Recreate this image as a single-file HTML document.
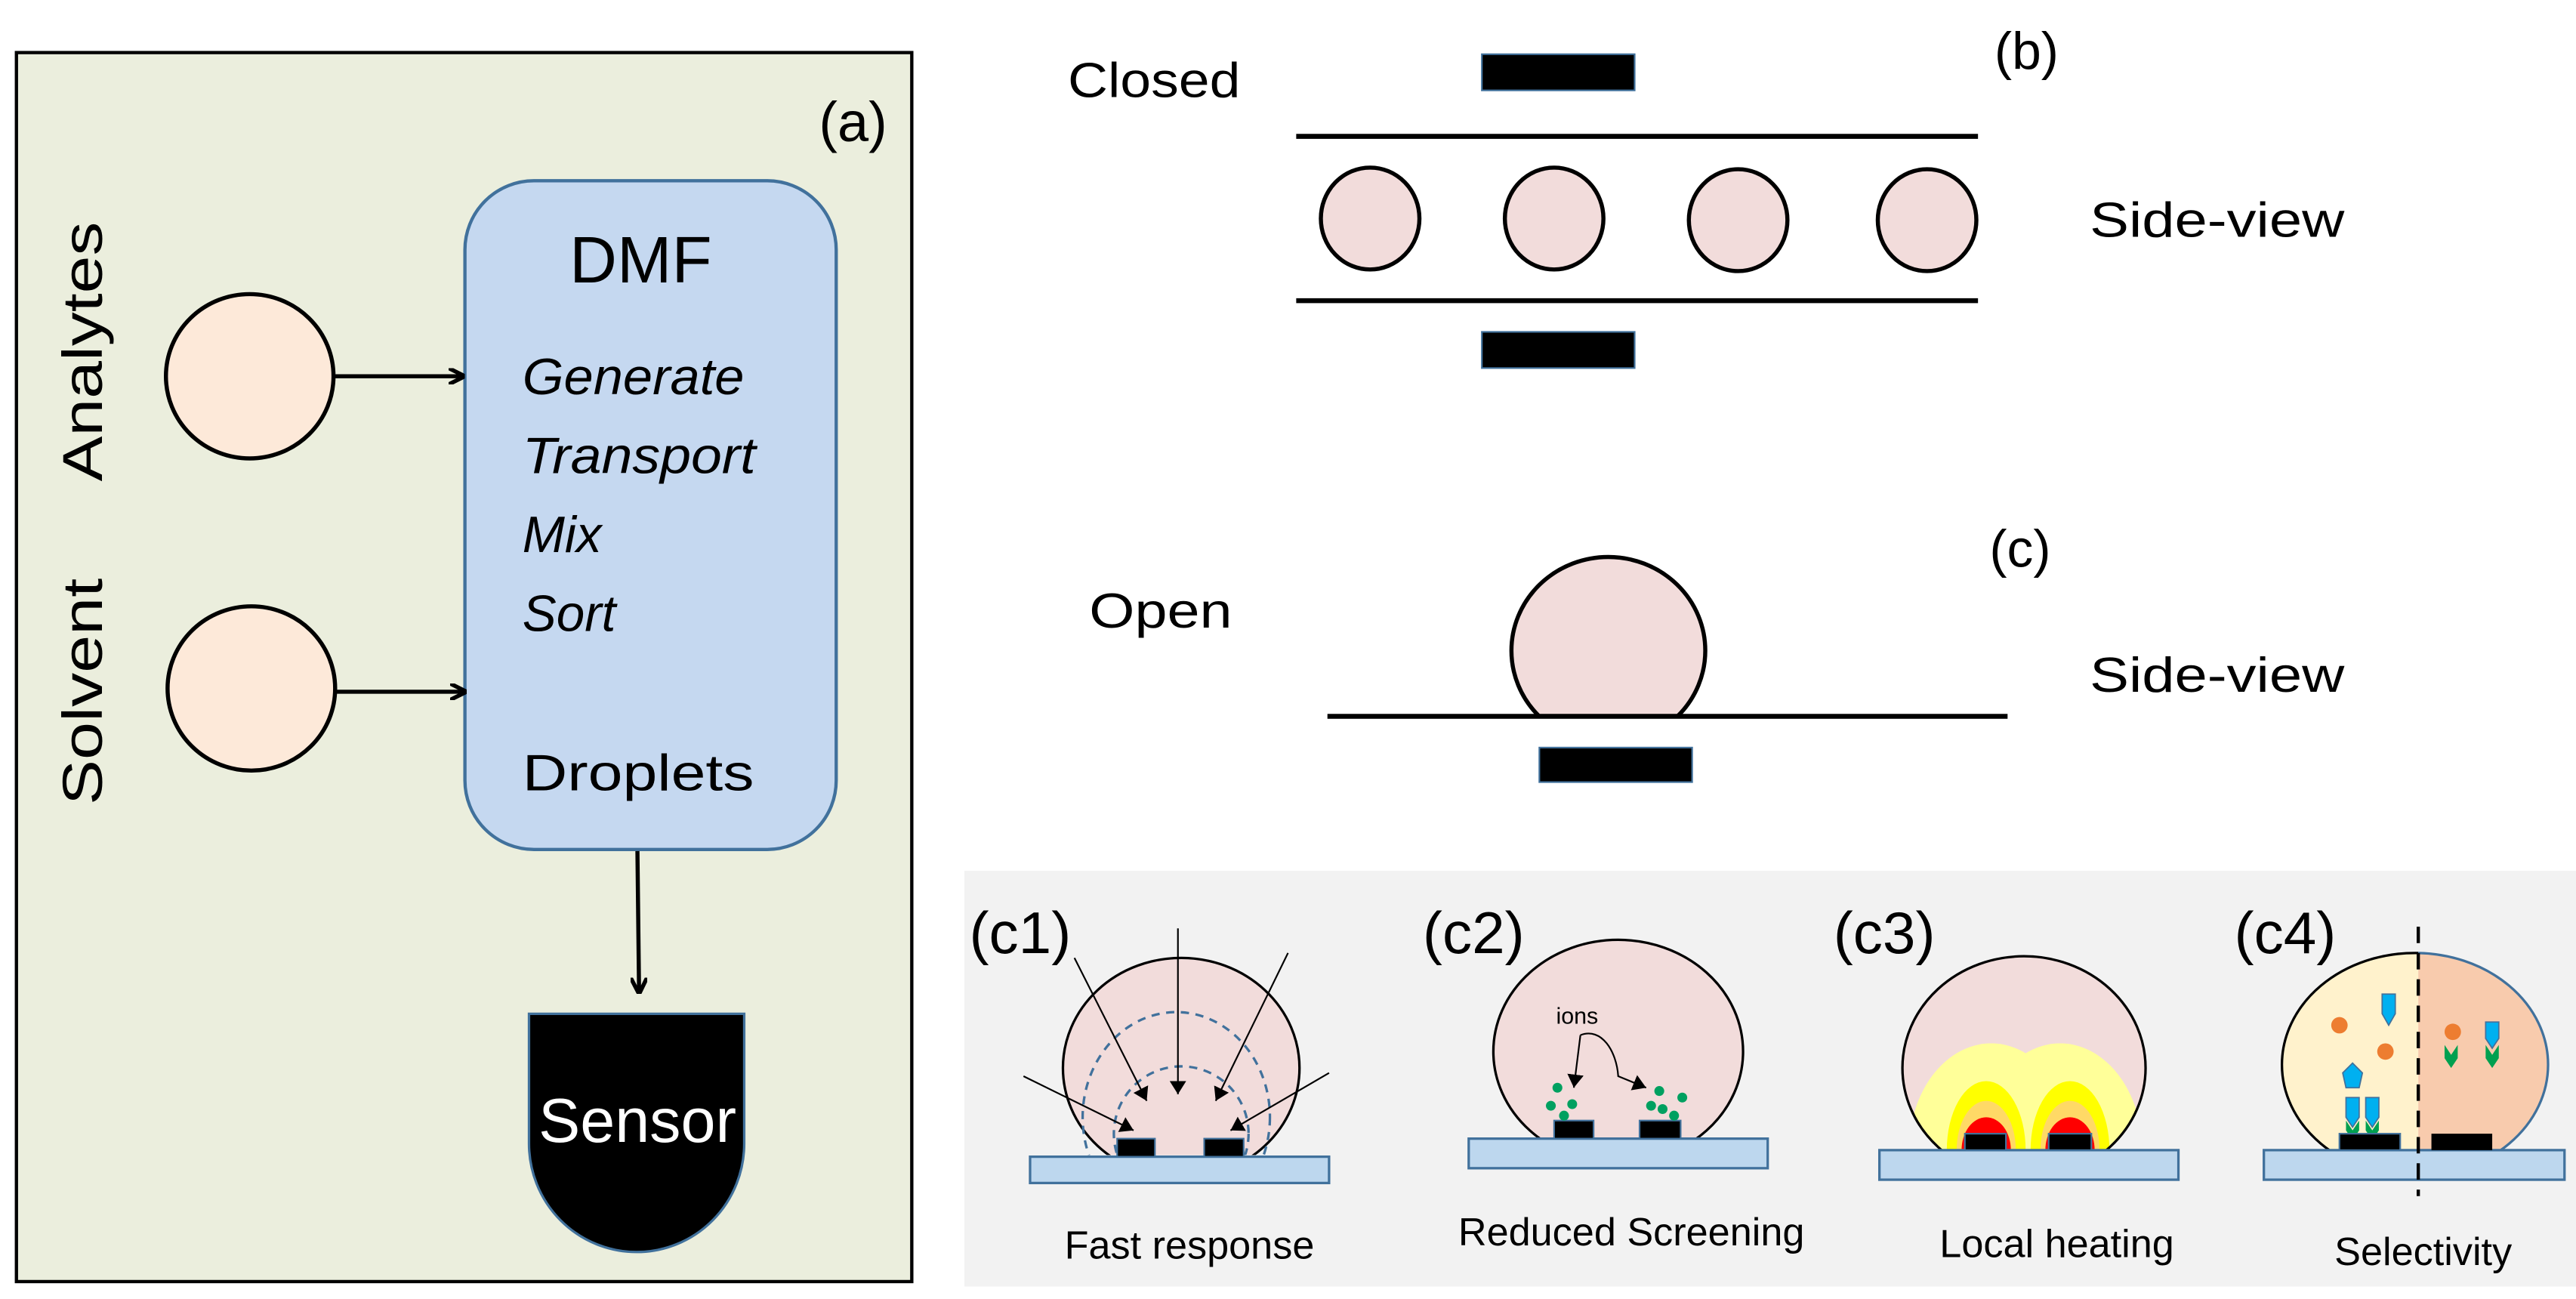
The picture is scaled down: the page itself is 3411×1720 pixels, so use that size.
<!DOCTYPE html>
<html><head><meta charset="utf-8"><style>html,body{margin:0;padding:0;background:#fff}svg{display:block}text{font-family:"Liberation Sans",sans-serif}</style></head>
<body>
<svg width="3411" height="1720" viewBox="0 0 1568 790.6" preserveAspectRatio="none" xmlns="http://www.w3.org/2000/svg">
<defs>
<marker id="ao" markerWidth="10" markerHeight="10" refX="9" refY="5" orient="auto" markerUnits="userSpaceOnUse"><path d="M0,0 L10,5 L0,10" fill="none" stroke="#000" stroke-width="2.5"/></marker>
<marker id="af" markerWidth="8" markerHeight="10" refX="8" refY="5" orient="auto" markerUnits="userSpaceOnUse"><path d="M0,0 L8,5 L0,10Z" fill="#000"/></marker>
<clipPath id="k1"><rect x="600" y="540" width="300" height="163"/></clipPath>
<clipPath id="k2"><rect x="880" y="540" width="300" height="153"/></clipPath>
<clipPath id="k3"><rect x="1130" y="540" width="300" height="160"/></clipPath>
<clipPath id="kc"><rect x="850" y="300" width="300" height="135"/></clipPath>
<clipPath id="d3"><ellipse cx="1232" cy="650" rx="74" ry="68"/></clipPath>
<clipPath id="d4L"><rect x="1370" y="560" width="102" height="140"/></clipPath>
<clipPath id="d4R"><rect x="1472" y="560" width="102" height="140"/></clipPath>
</defs>
<!-- panel a -->
<rect x="10" y="32" width="545" height="748" fill="#ebeedd" stroke="#000" stroke-width="2"/>
<text x="540" y="86" font-size="34" text-anchor="end">(a)</text>
<rect x="283" y="110" width="226" height="407" rx="42" fill="#c5d8f0" stroke="#41719c" stroke-width="2"/>
<text x="390" y="172" font-size="40" text-anchor="middle">DMF</text>
<g font-size="31" font-style="italic">
<text x="318" y="240" textLength="135" lengthAdjust="spacingAndGlyphs">Generate</text><text x="318" y="288" textLength="142" lengthAdjust="spacingAndGlyphs">Transport</text><text x="318" y="336">Mix</text><text x="318" y="384">Sort</text>
</g>
<text x="318" y="481" font-size="31" textLength="141" lengthAdjust="spacingAndGlyphs">Droplets</text>
<ellipse cx="152" cy="229" rx="51" ry="50" fill="#fde9d9" stroke="#000" stroke-width="2.5"/>
<ellipse cx="153" cy="419" rx="51" ry="50" fill="#fde9d9" stroke="#000" stroke-width="2.5"/>
<line x1="203" y1="229" x2="282" y2="229" stroke="#000" stroke-width="2.5" marker-end="url(#ao)"/>
<line x1="204" y1="421" x2="283" y2="421" stroke="#000" stroke-width="2.5" marker-end="url(#ao)"/>
<text transform="translate(62,214) rotate(-90)" font-size="34" text-anchor="middle" textLength="158" lengthAdjust="spacingAndGlyphs">Analytes</text>
<text transform="translate(62,421) rotate(-90)" font-size="34" text-anchor="middle" textLength="138" lengthAdjust="spacingAndGlyphs">Solvent</text>
<line x1="388" y1="518" x2="389" y2="604" stroke="#000" stroke-width="2.5" marker-end="url(#ao)"/>
<path d="M322,617 H453 V696 A65.5,66 0 0 1 322,696 Z" fill="#000" stroke="#41719c" stroke-width="1.5"/>
<text x="388" y="695" font-size="38" fill="#fff" text-anchor="middle">Sensor</text>
<!-- panel b -->
<text x="650" y="59" font-size="30" textLength="105" lengthAdjust="spacingAndGlyphs">Closed</text>
<text x="1214" y="42" font-size="32">(b)</text>
<rect x="902" y="33" width="93" height="22" fill="#000" stroke="#41719c"/>
<line x1="789" y1="83" x2="1204" y2="83" stroke="#000" stroke-width="3"/>
<g fill="#f2dcdb" stroke="#000" stroke-width="2.5">
<ellipse cx="834" cy="133" rx="30" ry="31"/><ellipse cx="946" cy="133" rx="30" ry="31"/><ellipse cx="1058" cy="134" rx="30" ry="31"/><ellipse cx="1173" cy="134" rx="30" ry="31"/>
</g>
<line x1="789" y1="183" x2="1204" y2="183" stroke="#000" stroke-width="3"/>
<rect x="902" y="202" width="93" height="22" fill="#000" stroke="#41719c"/>
<text x="1272" y="144" font-size="30" textLength="155" lengthAdjust="spacingAndGlyphs">Side-view</text>
<!-- panel c -->
<text x="663" y="382" font-size="30" textLength="87" lengthAdjust="spacingAndGlyphs">Open</text>
<text x="1211" y="345" font-size="32">(c)</text>
<ellipse cx="979" cy="396" rx="59" ry="57" fill="#f2dcdb" stroke="#000" stroke-width="2.5" clip-path="url(#kc)"/>
<line x1="808" y1="436" x2="1222" y2="436" stroke="#000" stroke-width="3"/>
<rect x="937" y="455" width="93" height="21" fill="#000" stroke="#41719c"/>
<text x="1272" y="421" font-size="30" textLength="155" lengthAdjust="spacingAndGlyphs">Side-view</text>
<!-- bottom panel -->
<rect x="587" y="530" width="981" height="253" fill="#f2f2f2"/>
<g font-size="36"><text x="590" y="580">(c1)</text><text x="866" y="580">(c2)</text><text x="1116" y="580">(c3)</text><text x="1360" y="580">(c4)</text></g>
<!-- c1 -->
<ellipse cx="719" cy="650" rx="72" ry="67" fill="#f2dcdb" stroke="#000" stroke-width="1.5" clip-path="url(#k1)"/>
<g fill="none" stroke="#41719c" stroke-width="1.5" stroke-dasharray="5,4" clip-path="url(#k1)">
<ellipse cx="716" cy="680" rx="57" ry="64"/><ellipse cx="719" cy="690" rx="41" ry="41"/>
</g>
<g stroke="#000" stroke-width="1" marker-end="url(#af)">
<line x1="717" y1="565" x2="717" y2="666"/><line x1="654" y1="583" x2="698" y2="670"/><line x1="784" y1="580" x2="740" y2="670"/>
<line x1="623" y1="655" x2="690" y2="688"/><line x1="809" y1="653" x2="749" y2="688"/>
</g>
<rect x="627" y="704" width="182" height="16" fill="#bdd7ee" stroke="#41719c" stroke-width="1.5"/>
<rect x="680" y="693" width="23" height="11" fill="#000" stroke="#41719c"/>
<rect x="733" y="693" width="24" height="11" fill="#000" stroke="#41719c"/>
<text x="724" y="766" font-size="24" text-anchor="middle">Fast response</text>
<!-- c2 -->
<ellipse cx="985" cy="640" rx="76" ry="68" fill="#f2dcdb" stroke="#000" stroke-width="1.5" clip-path="url(#k2)"/>
<rect x="894" y="693" width="182" height="18" fill="#bdd7ee" stroke="#41719c" stroke-width="1.5"/>
<rect x="946" y="682" width="24" height="11" fill="#000" stroke="#41719c"/>
<rect x="998" y="682" width="25" height="11" fill="#000" stroke="#41719c"/>
<text x="960" y="623" font-size="14" text-anchor="middle">ions</text>
<path d="M962,630 L958,662" stroke="#000" fill="none" stroke-width="1" marker-end="url(#af)"/>
<path d="M962,630 C975,625 984,640 985,655 L1002,662" stroke="#000" fill="none" stroke-width="1" marker-end="url(#af)"/>
<g fill="#00a060"><circle cx="948" cy="662" r="3"/><circle cx="944" cy="673" r="3"/><circle cx="952" cy="679" r="3"/><circle cx="957" cy="672" r="3"/><circle cx="1010" cy="664" r="3"/><circle cx="1012" cy="675" r="3"/><circle cx="1024" cy="668" r="3"/><circle cx="1019" cy="679" r="3"/><circle cx="1005" cy="673" r="3"/></g>
<text x="993" y="758" font-size="24" text-anchor="middle">Reduced Screening</text>
<!-- c3 -->
<g clip-path="url(#k3)">
<ellipse cx="1232" cy="650" rx="74" ry="68" fill="#f2dcdb"/>
<g clip-path="url(#d3)">
<ellipse cx="1212" cy="700" rx="50" ry="65" fill="#ffff99"/><ellipse cx="1254" cy="700" rx="50" ry="65" fill="#ffff99"/>
<ellipse cx="1209" cy="700" rx="24" ry="42" fill="#ffff00"/><ellipse cx="1260" cy="700" rx="24" ry="42" fill="#ffff00"/>
<ellipse cx="1209" cy="700" rx="18" ry="30" fill="#ffd966"/><ellipse cx="1260" cy="700" rx="18" ry="30" fill="#ffd966"/>
<ellipse cx="1209" cy="700" rx="15" ry="20" fill="#ff0000"/><ellipse cx="1260" cy="700" rx="15" ry="20" fill="#ff0000"/>
</g>
<ellipse cx="1232" cy="650" rx="74" ry="68" fill="none" stroke="#000" stroke-width="1.5"/>
</g>
<rect x="1144" y="700" width="182" height="18" fill="#bdd7ee" stroke="#41719c" stroke-width="1.5"/>
<rect x="1196" y="690" width="25" height="10" fill="#000" stroke="#41719c"/>
<rect x="1247" y="690" width="26" height="10" fill="#000" stroke="#41719c"/>
<text x="1252" y="765" font-size="24" text-anchor="middle">Local heating</text>
<!-- c4 -->
<g clip-path="url(#k3)" transform="translate(238,0)">
<g clip-path="url(#d4L)" transform="translate(-238,0)"><ellipse cx="1470" cy="648" rx="81" ry="68" fill="#fff2cc" stroke="#000" stroke-width="1.5"/></g>
<g clip-path="url(#d4R)" transform="translate(-238,0)"><ellipse cx="1470" cy="648" rx="81" ry="68" fill="#f8cbad" stroke="#41719c" stroke-width="1.5"/></g>
</g>
<g fill="#00b0f0" stroke="#41719c" stroke-width="0.8">
<path d="M1450,605 h8 v12 l-4,7 l-4,-7z"/>
<path d="M1513,622 h8 v10 l-4,6 l-4,-6z"/>
<path d="M1426,653 l6,-6 l6,6 l-2,9 h-8z"/>
<path d="M1428,668 h8 v12 l-4,6 l-4,-6z"/><path d="M1440,668 h8 v12 l-4,6 l-4,-6z"/>
</g>
<g fill="#00a050"><path d="M1428,682 l4,6 l4,-6 v6 l-4,6 l-4,-6z"/><path d="M1440,682 l4,6 l4,-6 v6 l-4,6 l-4,-6z"/><path d="M1488,636 l4,6 l4,-6 v8 l-4,6 l-4,-6z"/><path d="M1513,636 l4,6 l4,-6 v8 l-4,6 l-4,-6z"/></g>
<g fill="#ed7d31"><circle cx="1424" cy="624" r="5"/><circle cx="1452" cy="640" r="5"/><circle cx="1493" cy="628" r="5"/></g>
<rect x="1378" y="700" width="183" height="18" fill="#bdd7ee" stroke="#41719c" stroke-width="1.5"/>
<rect x="1424" y="690" width="37" height="10" fill="#000" stroke="#41719c"/>
<rect x="1480" y="690" width="37" height="10" fill="#000"/>
<line x1="1472" y1="564" x2="1472" y2="728" stroke="#000" stroke-width="2" stroke-dasharray="10,6"/>
<text x="1475" y="770" font-size="24" text-anchor="middle">Selectivity</text>
</svg>
</body></html>
